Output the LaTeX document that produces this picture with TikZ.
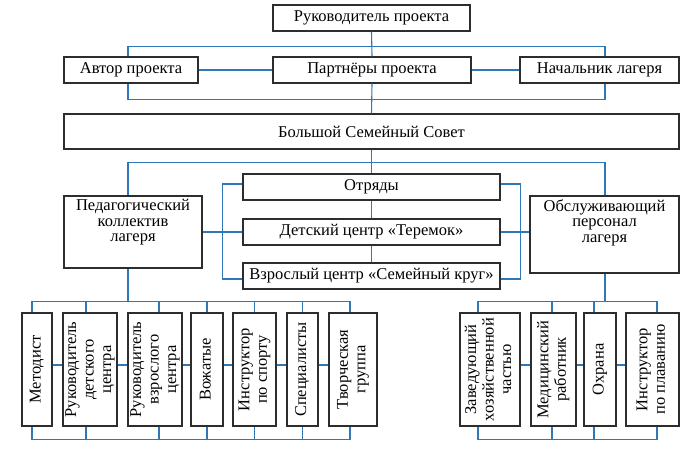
\documentclass[tikz,border=0pt]{standalone}
\usepackage{fontspec}
\usepackage{graphicx}
\setmainfont{Liberation Serif}
\usetikzlibrary{calc}
\definecolor{lnk}{RGB}{46,120,185}
\definecolor{bdr}{RGB}{45,45,45}
\newcommand\vtext[1]{\rotatebox{90}{\begin{tabular}{@{}c@{}}#1\end{tabular}}}
\begin{document}
\begin{tikzpicture}[x=1bp,y=-1bp,
  box/.style={draw=bdr, line width=1.1bp, fill=white, inner sep=0pt,
    font=\fontsize{16.5bp}{16bp}\selectfont, align=center},
  vbox/.style={box, font=\fontsize{16.5bp}{17.5bp}\selectfont, minimum height=113bp},
  toptext/.style={font=\fontsize{16.5bp}{15.5bp}\selectfont, align=center, anchor=north, inner sep=4bp},
  link/.style={draw=lnk, line width=1.1bp}]
\fill[white] (0,0) rectangle (700,459);
\useasboundingbox (0,0) rectangle (700,459);

% top levels
\node[box, minimum width=197bp, minimum height=26bp] (ruk) at (371.5,18) {Руководитель проекта};
\node[box, minimum width=134bp, minimum height=26bp] (avt) at (131,70) {Автор проекта};
\node[box, minimum width=198bp, minimum height=26bp] (part) at (372,70) {Партнёры проекта};
\node[box, minimum width=159bp, minimum height=26bp] (nach) at (599.5,70) {Начальник лагеря};
\node[box, minimum width=615bp, minimum height=35bp] (bss) at (371.5,131.5) {Большой Семейный Совет};

% middle
\node[box, minimum width=138bp, minimum height=72bp,
  label={[toptext]north:{Педагогический\\коллектив\\лагеря}}] (ped) at (133,232) {};
\node[box, minimum width=149bp, minimum height=77bp,
  label={[toptext]north:{Обслуживающий\\персонал\\лагеря}}] (obs) at (604.5,234.5) {};
\node[box, minimum width=257bp, minimum height=26bp] (otr) at (371.5,187) {Отряды};
\node[box, minimum width=257bp, minimum height=26bp] (det) at (371.5,232) {Детский центр «Теремок»};
\node[box, minimum width=257bp, minimum height=26bp] (vzr) at (371.5,276) {Взрослый центр «Семейный круг»};

% bottom left group
\node[vbox, minimum width=30bp] (m1) at (37,369.5) {\vtext{Методист}};
\node[vbox, minimum width=54bp] (m2) at (90,369.5) {\vtext{Руководитель\\детского\\центра}};
\node[vbox, minimum width=54bp] (m3) at (155,369.5) {\vtext{Руководитель\\взрослого\\центра}};
\node[vbox, minimum width=32bp] (m4) at (207,369.5) {\vtext{Вожатые}};
\node[vbox, minimum width=43bp] (m5) at (254.5,369.5) {\vtext{Инструктор\\по спорту}};
\node[vbox, minimum width=31bp] (m6) at (302.5,369.5) {\vtext{Специалисты}};
\node[vbox, minimum width=48bp] (m7) at (353,369.5) {\vtext{Творческая\\группа}};

% bottom right group
\node[vbox, minimum width=60bp] (r1) at (490,369.5) {\vtext{Заведующий\\хозяйственной\\частью}};
\node[vbox, minimum width=45bp] (r2) at (553.5,369.5) {\vtext{Медицинский\\работник}};
\node[vbox, minimum width=32bp] (r3) at (600,369.5) {\vtext{Охрана}};
\node[vbox, minimum width=53bp] (r4) at (652.5,369.5) {\vtext{Инструктор\\по плаванию}};

% column coordinates
\coordinate (cL) at (128,0);
\coordinate (cR) at (605,0);

% links: top
\draw[link] (ruk.south) -- (part.north);
\draw[link] (cL |- avt.north) -- ++(0,-10) -| (cR |- nach.north);
\draw[link] (avt.east) -- (part.west);
\draw[link] (part.east) -- (nach.west);
\draw[link] (cL |- avt.south) -- ++(0,16) -| (cR |- nach.south);
\draw[link] (part.south) -- (bss.north);

% links: middle
\draw[link] (bss.south) -- (otr.north);
\draw[link] (cL |- ped.north) -- ++(0,-33) -| (cR |- obs.north);
\draw[link] (otr.south) -- (det.north);
\draw[link] (det.south) -- (vzr.north);
\draw[link] ($(otr.west)+(0,-3)$) -- ++(-20,0) |- ($(vzr.west)+(0,3)$);
\draw[link] (ped.east |- det.west) -- (det.west);
\draw[link] ($(otr.east)+(0,-3)$) -- ++(20,0) |- ($(vzr.east)+(0,3)$);
\draw[link] (det.east) -- (det.east -| obs.west);

% links: bottom left
\draw[link] (cL |- ped.south) -- (cL |- 0,302);
\coordinate (t1) at ($(m1.north)+(-5,0)$);
\coordinate (t2) at ($(m2.north)+(-4,0)$);
\coordinate (t3) at ($(m3.north)+(4,0)$);
\coordinate (t4) at (m4.north);
\coordinate (t5) at (m5.north);
\coordinate (t6) at (m6.north);
\coordinate (t7) at ($(m7.north)+(-3,0)$);
\draw[link] (t1) -- ++(0,-11) -| (t7);
\foreach \i in {2,...,6} { \draw[link] (t\i) -- ++(0,-11); }
\coordinate (b1) at ($(m1.south)+(-5,0)$);
\coordinate (b2) at ($(m2.south)+(-4,0)$);
\coordinate (b3) at ($(m3.south)+(4,0)$);
\coordinate (b4) at (m4.south);
\coordinate (b5) at (m5.south);
\coordinate (b6) at (m6.south);
\coordinate (b7) at ($(m7.south)+(-3,0)$);
\draw[link] (b1) -- ++(0,13) -| (b7);
\foreach \i in {2,...,6} { \draw[link] (b\i) -- ++(0,13); }
\foreach \a/\b in {m1/m2,m2/m3,m3/m4,m4/m5,m5/m6,m6/m7,r1/r2,r2/r3,r3/r4} {
  \draw[link] ($(\a.east)+(0,-4.5)$) -- ($(\b.west)+(0,-4.5)$);
}

% links: bottom right
\draw[link] (cR |- obs.south) -- (cR |- 0,302);
\coordinate (u1) at ($(r1.north)+(-12,0)$);
\coordinate (u2) at ($(r2.north)+(-1.5,0)$);
\coordinate (u3) at ($(r3.north)+(-6,0)$);
\coordinate (u4) at ($(r4.north)+(4.5,0)$);
\draw[link] (u1) -- ++(0,-11) -| (u4);
\foreach \i in {2,3} { \draw[link] (u\i) -- ++(0,-11); }
\coordinate (v1) at ($(r1.south)+(-12,0)$);
\coordinate (v2) at ($(r2.south)+(-1.5,0)$);
\coordinate (v3) at ($(r3.south)+(-6,0)$);
\coordinate (v4) at ($(r4.south)+(4.5,0)$);
\draw[link] (v1) -- ++(0,13) -| (v4);
\foreach \i in {2,3} { \draw[link] (v\i) -- ++(0,13); }
\end{tikzpicture}
\end{document}
